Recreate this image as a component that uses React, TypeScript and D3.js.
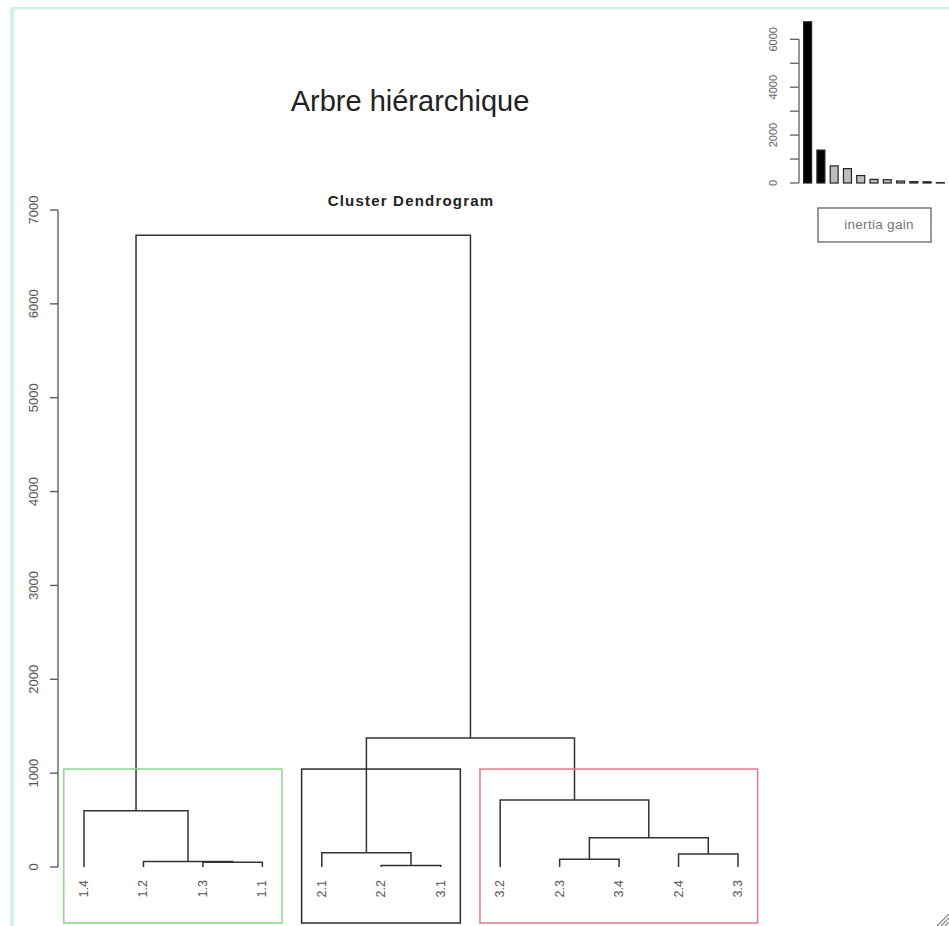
import React from "react";
import * as d3 from "d3";

// ---- Data ----
const leafLabels = ["1.4", "1.2", "1.3", "1.1", "2.1", "2.2", "3.1", "3.2", "2.3", "3.4", "2.4", "3.3"];
// merges (like R hclust): "#k" refers to merge k, otherwise a leaf label
const mergeA = ["1.3", "2.2", "2.3", "1.2", "2.4", "2.1", "#2", "1.4", "3.2", "#5", "#7"];
const mergeB = ["1.1", "3.1", "3.4", "#0", "3.3", "#1", "#4", "#3", "#6", "#8", "#9"];
const mergeHeights = [50, 15, 82, 58, 138, 151, 311, 600, 713, 1374, 6730];
const yTicks = [0, 1000, 2000, 3000, 4000, 5000, 6000, 7000];

const clusterStart = ["1.4", "2.1", "3.2"];
const clusterEnd = ["1.1", "3.1", "3.3"];
const clusterColors = ["#86d886", "#2a2a2a", "#e07b8c"];

const inertiaGain = [6730, 1374, 713, 600, 311, 151, 138, 82, 58, 50, 15];
const insetTicks = [0, 1000, 2000, 3000, 4000, 5000, 6000];
const insetTickLabels = [0, 2000, 4000, 6000];

const FONT = "'Liberation Sans', Arial, Helvetica, sans-serif";

export default function App() {
  const W = 949, H = 926;
  const x = d3.scalePoint<string>().domain(leafLabels).range([84, 738]);
  const y = d3.scaleLinear().domain([0, 7000]).range([867, 210]);
  const step = x.step();

  // build node positions
  const nodes: { x: number; h: number }[] = [];
  const pos = (ref: string) => (ref.startsWith("#") ? nodes[+ref.slice(1)] : { x: x(ref) as number, h: 0 });
  const paths: string[] = [];
  mergeHeights.forEach((h, i) => {
    const a = pos(mergeA[i]);
    const b = pos(mergeB[i]);
    const p = d3.path();
    p.moveTo(a.x, y(a.h));
    p.lineTo(a.x, y(h));
    p.lineTo(b.x, y(h));
    p.lineTo(b.x, y(b.h));
    paths.push(p.toString());
    nodes.push({ x: (a.x + b.x) / 2, h });
  });

  const k = clusterStart.length;
  const sortedH = [...mergeHeights].sort((a, b) => b - a);
  const boxTop = y((sortedH[k - 2] + sortedH[k - 1]) / 2);
  const boxBottom = 923;

  // inset
  const bx = d3.scaleBand<number>().domain(d3.range(inertiaGain.length)).range([801, 947]).paddingInner(0.4).paddingOuter(0.2);
  const by = d3.scaleLinear().domain([0, 6000]).range([183, 39.3]);

  return (
    <svg width={W} height={H} style={{ position: "absolute", left: 0, top: 0, background: "#fff" }} fontFamily={FONT}>
      {/* frame */}
      <rect x={10} y={7} width={4} height={H - 7} fill="#cff5e1" />
      <rect x={10} y={7} width={W - 10} height={2.5} fill="#cff5e1" />

      {/* titles */}
      <text x={410} y={111} textAnchor="middle" fontSize={29} fill="#222">Arbre hiérarchique</text>
      <text x={411} y={206} textAnchor="middle" fontSize={15} fontWeight="bold" letterSpacing={1.2} fill="#222">Cluster Dendrogram</text>

      {/* y axis */}
      <line x1={58} x2={58} y1={y(0)} y2={y(7000)} stroke="#555" strokeWidth={1.3} />
      {yTicks.map((t) => (
        <g key={t}>
          <line x1={50} x2={58} y1={y(t)} y2={y(t)} stroke="#555" strokeWidth={1.3} />
          <text transform={`translate(38,${y(t)}) rotate(-90)`} textAnchor="middle" fontSize={13} fill="#555">{t}</text>
        </g>
      ))}

      {/* dendrogram */}
      {paths.map((d, i) => (
        <path key={i} d={d} fill="none" stroke="#333" strokeWidth={1.5} />
      ))}
      {leafLabels.map((l) => (
        <text key={l} transform={`translate(${x(l)},880) rotate(-90)`} textAnchor="end" dominantBaseline="central" fontSize={12.5} fill="#555">{l}</text>
      ))}

      {/* cluster boxes */}
      {clusterStart.map((s, i) => {
        const x0 = (x(s) as number) - 0.34 * step;
        const x1 = (x(clusterEnd[i]) as number) + 0.33 * step;
        return <rect key={s} x={x0} y={boxTop} width={x1 - x0} height={boxBottom - boxTop} fill="none" stroke={clusterColors[i]} strokeWidth={1.5} />;
      })}

      {/* inset bar chart */}
      <line x1={799} x2={799} y1={by(0)} y2={by(6000)} stroke="#555" strokeWidth={1.2} />
      {insetTicks.map((t) => (
        <line key={t} x1={790} x2={799} y1={by(t)} y2={by(t)} stroke="#555" strokeWidth={1.2} />
      ))}
      {insetTickLabels.map((t) => (
        <text key={t} transform={`translate(777,${by(t)}) rotate(-90)`} textAnchor="middle" fontSize={11} fill="#666">{t}</text>
      ))}
      {inertiaGain.map((v, i) => (
        <rect key={i} x={bx(i)} y={by(v)} width={bx.bandwidth()} height={by(0) - by(v)} fill={i < k - 1 ? "#000" : "#bebebe"} stroke="#222" strokeWidth={1.2} />
      ))}
      <rect x={818} y={208} width={113} height={34} fill="none" stroke="#555" strokeWidth={1.2} />
      <text x={879} y={229} textAnchor="middle" fontSize={13.5} letterSpacing={0.3} fill="#777">inertia gain</text>

      {/* resize handle */}
      {[0, 4, 8].map((o) => (
        <line key={o} x1={937 + o} y1={926} x2={949} y2={914 + o} stroke="#888" strokeWidth={1.2} />
      ))}
    </svg>
  );
}
